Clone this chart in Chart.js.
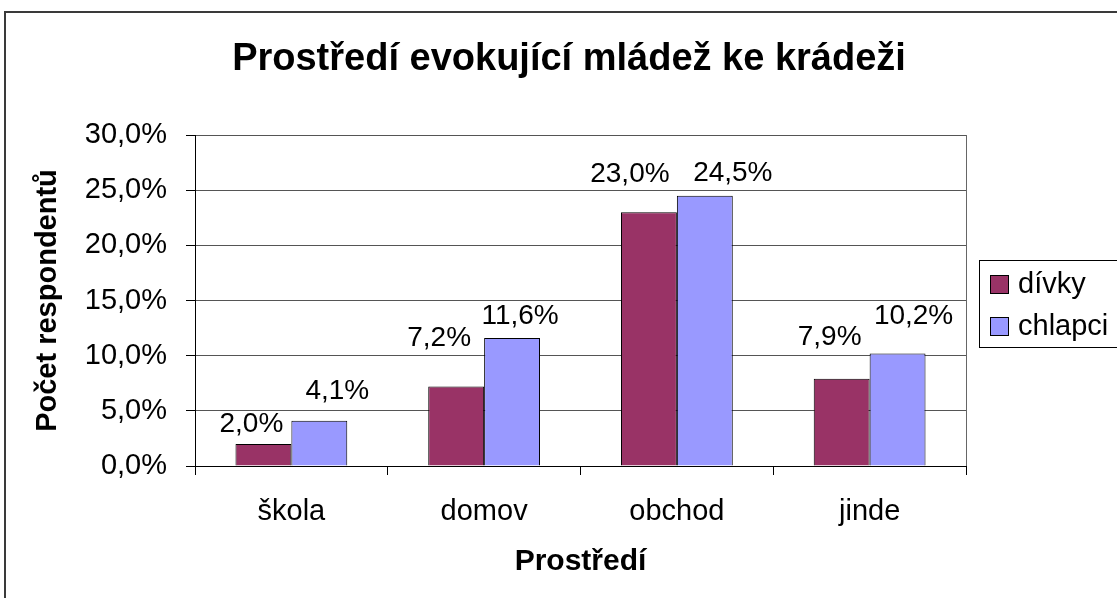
<!DOCTYPE html>
<html>
<head>
<meta charset="utf-8">
<script src="https://cdn.jsdelivr.net/npm/chart.js@4.4.0/dist/chart.umd.min.js"></script>
<style>
  html, body { margin: 0; padding: 0; background: #fff; }
  #wrap { width: 1117px; height: 598px; position: relative; }
</style>
</head>
<body>
<div id="wrap"><canvas id="chart"></canvas></div>
<script>
const categories = ['škola', 'domov', 'obchod', 'jinde'];
const seriesNames = ['dívky', 'chlapci'];
const divky = [2.0, 7.2, 23.0, 7.9];
const chlapci = [4.1, 11.6, 24.5, 10.2];
const seriesColors = ['#993366', '#9999FF'];
const chartTitle = 'Prostředí evokující mládež ke krádeži';
const xTitle = 'Prostředí';
const yTitle = 'Počet respondentů';

const FONT = "'Liberation Sans', Arial, Helvetica, sans-serif";
Chart.defaults.font.family = FONT;
Chart.defaults.color = '#000';

const fmt = v => v.toFixed(1).replace('.', ',') + '%';

// label placement tweaks [dx, lift above bar top], per series and category
const labelNudge = [
  [[-12, 12], [-17, 41], [-19, 30], [-12, 34]],
  [[18, 22], [8, 14], [28, 15], [16, 29]]
];

const decor = {
  id: 'decor',
  beforeDraw(chart) {
    const c = chart.ctx;
    c.save();
    c.fillStyle = '#fff';
    c.fillRect(0, 0, chart.width, chart.height);
    c.strokeStyle = '#3a3a3a';
    c.lineWidth = 2;
    c.strokeRect(5, 12, chart.width + 20, chart.height + 20);
    c.restore();
  },
  afterDatasetsDraw(chart) {
    const c = chart.ctx, a = chart.chartArea;
    c.save();
    // plot right border
    c.strokeStyle = '#666';
    c.lineWidth = 1;
    c.beginPath();
    c.moveTo(Math.round(a.right) + 0.5, a.top);
    c.lineTo(Math.round(a.right) + 0.5, a.bottom);
    c.stroke();
    // data labels
    c.font = '28px ' + FONT;
    c.fillStyle = '#000';
    c.textAlign = 'center';
    c.textBaseline = 'alphabetic';
    chart.data.datasets.forEach((ds, i) => {
      chart.getDatasetMeta(i).data.forEach((bar, j) => {
        const [dx, lift] = labelNudge[i][j];
        c.fillText(fmt(ds.data[j]), bar.x + dx, bar.y - lift);
      });
    });
    c.restore();
  },
  afterDraw(chart) {
    const c = chart.ctx, a = chart.chartArea;
    c.save();
    // title
    c.font = 'bold 38px ' + FONT;
    c.fillStyle = '#000';
    c.textAlign = 'center';
    c.textBaseline = 'middle';
    c.fillText(chartTitle, 569, 60);
    // legend
    const lx = a.right + 13;
    const ly = (a.top + a.bottom) / 2 + 3 - 43.5;
    c.strokeStyle = '#000';
    c.lineWidth = 1;
    c.strokeRect(Math.round(lx) + 0.5, Math.round(ly) + 0.5, 300, 87);
    c.font = '29px ' + FONT;
    c.textAlign = 'left';
    chart.data.datasets.forEach((ds, i) => {
      const sy = Math.round(ly + 15 + i * 42);
      const sx = Math.round(lx + 11);
      c.fillStyle = ds.backgroundColor;
      c.fillRect(sx, sy, 19, 19);
      c.strokeRect(sx + 0.5, sy + 0.5, 18, 18);
      c.fillStyle = '#000';
      c.fillText(ds.label, lx + 39, sy + 10);
    });
    c.restore();
  }
};

new Chart(document.getElementById('chart'), {
  type: 'bar',
  data: {
    labels: categories,
    datasets: [
      { label: seriesNames[0], data: divky, backgroundColor: seriesColors[0], borderColor: '#000', borderWidth: 1 },
      { label: seriesNames[1], data: chlapci, backgroundColor: seriesColors[1], borderColor: '#000', borderWidth: 1 }
    ]
  },
  options: {
    responsive: true,
    maintainAspectRatio: false,
    animation: false,
    datasets: { bar: { categoryPercentage: 0.58, barPercentage: 1.0 } },
    layout: { padding: { left: 10, right: 151, top: 135, bottom: 5 } },
    plugins: {
      legend: { display: false },
      title: { display: false },
      tooltip: { enabled: false }
    },
    scales: {
      x: {
        grid: { offset: true, drawOnChartArea: false, drawTicks: true, tickLength: 9, color: '#000' },
        border: { color: '#000', width: 1 },
        ticks: { font: { size: 29 }, color: '#000', padding: 20 },
        title: { display: true, text: xTitle, font: { size: 30, weight: 'bold' }, color: '#000', padding: { top: 0, bottom: 13 } },
        afterFit: s => { s.height = 127; }
      },
      y: {
        min: 0,
        max: 30,
        grid: { color: '#555', drawTicks: true, tickLength: 9, tickColor: '#000' },
        border: { color: '#000', width: 1 },
        ticks: { stepSize: 5, font: { size: 29 }, color: '#000', padding: 19, callback: v => fmt(v) },
        title: { display: true, text: yTitle, font: { size: 29, weight: 'bold' }, color: '#000', padding: { top: 20.6, bottom: 0 } },
        afterFit: s => { s.width = 185; }
      }
    }
  },
  plugins: [decor]
});
</script>
</body>
</html>
